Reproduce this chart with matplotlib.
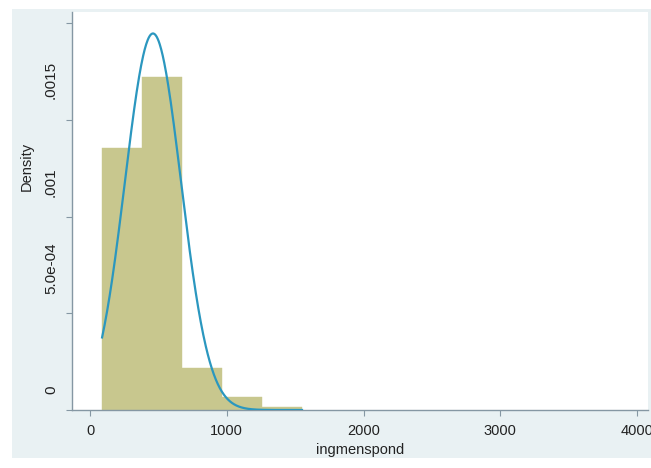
import numpy as np
import matplotlib
matplotlib.use("Agg")
import matplotlib.pyplot as plt
from matplotlib.patches import Rectangle

# histogram bins of ingmenspond (density scale)
bin_edges = [88, 380, 673, 965, 1258, 1550]
densities = [0.001354, 0.001721, 0.000217, 0.000067, 0.000015]

# normal curve parameters
mu = 460
sigma = 205

x_ticks = [0, 1000, 2000, 3000, 4000]
x_labels = ["0", "1000", "2000", "3000", "4000"]
y_tick_marks = [0, 0.0005, 0.001, 0.0015, 0.002]
# labels sit a little off their tick marks in the picture
y_label_pos = [0.000103, 0.000734, 0.001178, 0.001705]
y_labels = ["0", "5.0e-04", ".001", ".0015"]

plt.rcParams['font.family'] = ['Liberation Sans', 'DejaVu Sans']

fig = plt.figure(figsize=(6.51, 4.68), dpi=100)
fig.patch.set_facecolor("white")
# light blue graph region behind the plot
fig.patches.append(Rectangle((12 / 651, 10 / 468), 639 / 651, 449 / 468,
                             transform=fig.transFigure, facecolor="#e9f1f3",
                             edgecolor="none", zorder=-5))

ax = fig.add_axes([72 / 651, 58 / 468, 576 / 651, 398 / 468])
ax.set_zorder(2)
ax.set_facecolor("white")

widths = np.diff(bin_edges)
ax.bar(bin_edges[:-1], densities, width=widths, align="edge",
       color="#c8c78e", edgecolor="#c8c78e", linewidth=0.3, zorder=2)

xs = np.linspace(bin_edges[0], bin_edges[-1], 400)
pdf = np.exp(-0.5 * ((xs - mu) / sigma) ** 2) / (sigma * np.sqrt(2 * np.pi))
ax.plot(xs, pdf, color="#2b97bf", linewidth=1.6, zorder=3)

ax.set_xlim(-132, 4080)
ax.set_ylim(0, 0.002057)

for side in ["top", "right"]:
    ax.spines[side].set_visible(False)
for side in ["left", "bottom"]:
    ax.spines[side].set_color("#8597a3")
    ax.spines[side].set_linewidth(1.0)

ax.set_xticks(x_ticks)
ax.set_xticklabels(x_labels, fontsize=10.5, color="#222222")
ax.tick_params(axis="x", length=4, width=0.8, color="#8597a3", pad=6)

ax.set_yticks(y_label_pos)
ax.set_yticklabels(y_labels, fontsize=11, color="#222222", rotation=90,
                   va="center")
ax.tick_params(axis="y", which="major", length=0, pad=10)
ax.set_yticks(y_tick_marks, minor=True)
ax.tick_params(axis="y", which="minor", length=4, width=0.8, color="#8597a3")

ax.set_xlabel("ingmenspond", fontsize=10.5, color="#222222", labelpad=4)
ax.set_ylabel("Density", fontsize=10.5, color="#222222")
ax.yaxis.set_label_coords(-0.066, 0.613)

fig.savefig("out.png", dpi=100)
